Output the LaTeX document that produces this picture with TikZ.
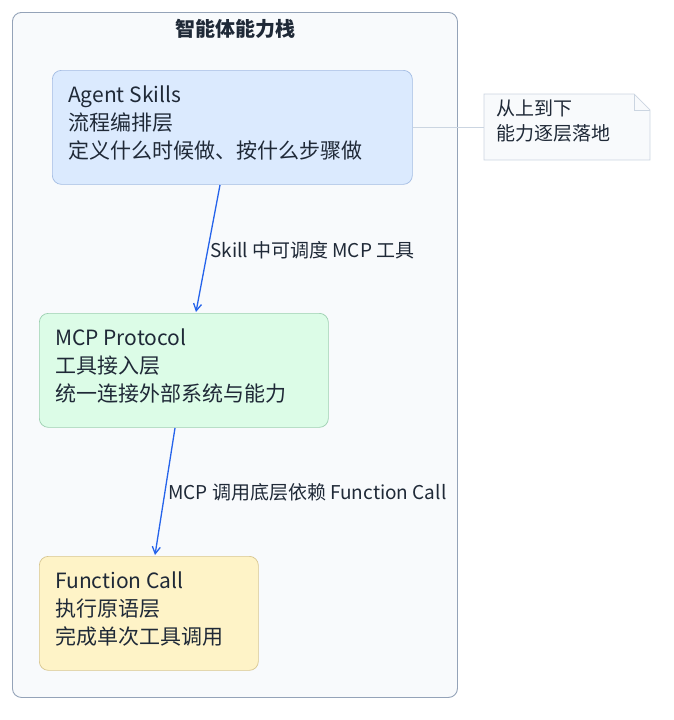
\documentclass[tikz,border=0pt]{standalone}
\usepackage{fontspec}
\setmainfont{Noto Sans CJK SC}
\usetikzlibrary{arrows.meta}
\definecolor{txt}{HTML}{1F2937}
\definecolor{arr}{HTML}{2563EB}
\definecolor{outf}{HTML}{F8FAFC}
\definecolor{outd}{HTML}{94A3B8}
\definecolor{bf}{HTML}{DBEAFE}
\definecolor{bd}{HTML}{A3BCE3}
\definecolor{gf}{HTML}{DCFCE7}
\definecolor{gd}{HTML}{9CCFB0}
\definecolor{yf}{HTML}{FEF3C7}
\definecolor{yd}{HTML}{D8C690}
\definecolor{nd}{HTML}{CBD5E1}
\tikzset{
 box/.style={rounded corners=9pt, line width=0.7pt, anchor=north west},
 btxt/.style={anchor=north west, align=left, text=txt, font=\fontsize{21}{28}\selectfont, inner sep=0pt},
 conn/.style={draw=arr, line width=1.3pt, -{Straight Barb[length=7pt,width=8pt]}},
 lab/.style={font=\fontsize{19}{22}\selectfont, text=txt}
}
\begin{document}
\begin{tikzpicture}[x=1pt,y=-1pt]
\useasboundingbox (0,0) rectangle (673,720);
\node[box, draw=outd, fill=outf, line width=0.9pt, minimum width=445, minimum height=685] (outer) at (12,12) {};
\node[font=\fontsize{20}{22}\selectfont\bfseries, text=txt] (title) at (235,29) {智能体能力栈};
\node[box, draw=bd, fill=bf, minimum width=360, minimum height=114] (a) at (52,70) {};
\node[btxt] (at) at (68,86) {Agent Skills\\流程编排层\\定义什么时候做、按什么步骤做};
\node[box, draw=gd, fill=gf, minimum width=289, minimum height=114] (m) at (39,313) {};
\node[btxt] (mt) at (55,329) {MCP Protocol\\工具接入层\\统一连接外部系统与能力};
\node[box, draw=yd, fill=yf, minimum width=219, minimum height=114] (f) at (39,556) {};
\node[btxt] (ft) at (55,572) {Function Call\\执行原语层\\完成单次工具调用};
% note
\coordinate (n1) at (484,94); \coordinate (n2) at (634,94); \coordinate (n3) at (650,110); \coordinate (n4) at (650,160); \coordinate (n5) at (484,160);
\draw[draw=nd, fill=outf, line width=0.7pt] (n1) -- (n2) -- (n3) -- (n4) -- (n5) -- cycle;
\draw[draw=nd, line width=0.7pt] (n2) -- (634,110) -- (n3);
\node[anchor=north west, align=left, text=txt, font=\fontsize{19}{25}\selectfont, inner sep=0pt] (nt) at (496,100) {从上到下\\能力逐层落地};
\coordinate (nl) at (484,127);
\draw[nd, line width=0.7pt] (a.east |- nl) -- (nl);
\draw[conn] (220,185) -- (196,312);
\node[lab, anchor=west, inner sep=0pt] at (210,250) {Skill 中可调度 MCP 工具};
\draw[conn] (175,428) -- (155,555);
\node[lab, anchor=west, inner sep=0pt] at (168,492) {MCP 调用底层依赖 Function Call};
\end{tikzpicture}
\end{document}
